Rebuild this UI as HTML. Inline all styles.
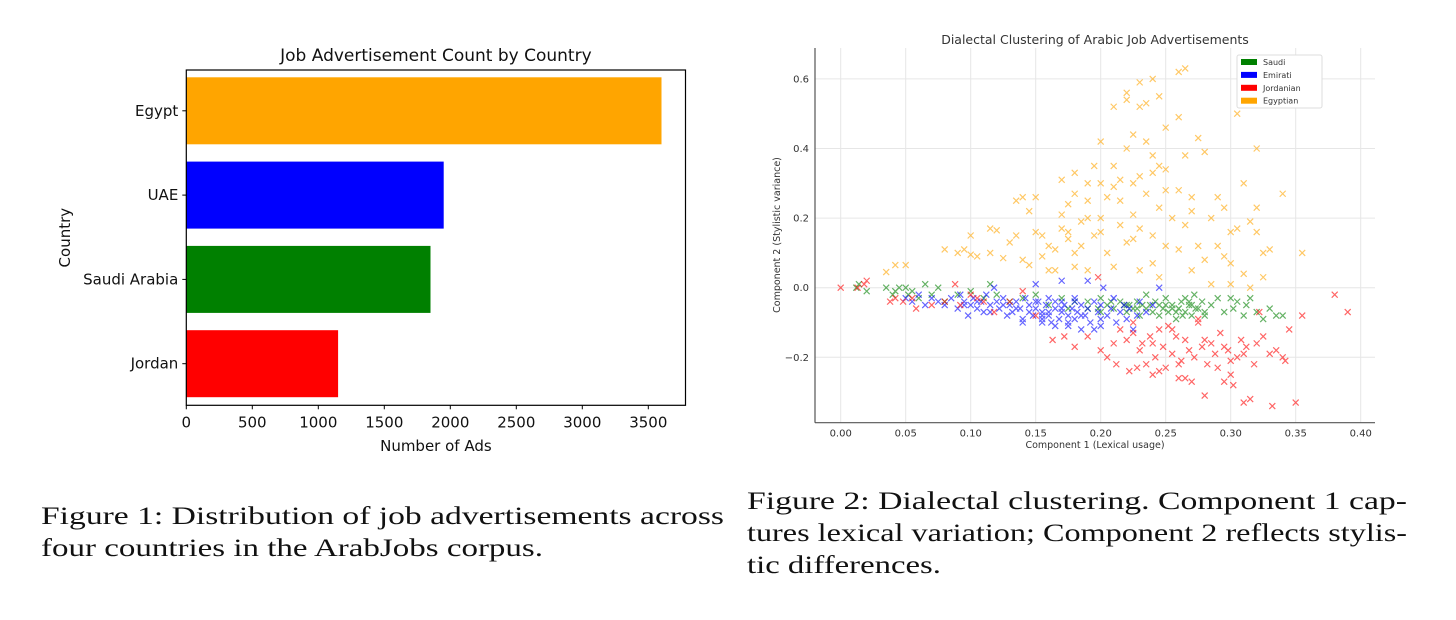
<!DOCTYPE html>
<html><head><meta charset="utf-8">
<style>
html,body{margin:0;padding:0;background:#fff;}
body{width:1456px;height:620px;position:relative;overflow:hidden;}
.ln{position:absolute;font-family:"Liberation Serif",serif;font-size:25px;line-height:32px;color:#111;white-space:nowrap;transform-origin:0 0;}
svg text{font-family:"DejaVu Sans","Liberation Sans",sans-serif;}
</style></head><body>
<svg id="c1" width="720" height="470" style="position:absolute;left:0;top:0"></svg>
<svg id="c2" width="736" height="470" style="position:absolute;top:0;left:720px"></svg>
<div>
<div class="ln" data-fit="683" style="left:41px;top:501px;">Figure 1: Distribution of job advertisements across</div>
<div class="ln" data-fit="502" style="left:41px;top:533px;">four countries in the ArabJobs corpus.</div>
</div>
<div>
<div class="ln" data-fit="660" style="left:747px;top:486px;">Figure 2: Dialectal clustering. Component 1 cap-</div>
<div class="ln" data-fit="660" style="left:747px;top:518px;">tures lexical variation; Component 2 reflects stylis-</div>
<div class="ln" data-fit="194" style="left:747px;top:550px;">tic differences.</div>
</div>
<script>
document.querySelectorAll('.ln').forEach(e=>{const w=e.getBoundingClientRect().width;const t=+e.getAttribute('data-fit');e.style.transform='scaleX('+(t/w)+')';});
const NS='http://www.w3.org/2000/svg';
function mk(p,t,a,txt){const e=document.createElementNS(NS,t);for(const k in a)e.setAttribute(k,a[k]);if(txt!==undefined)e.textContent=txt;p.appendChild(e);return e;}

// ---- Chart 1 data ----
const countries=['Egypt','UAE','Saudi Arabia','Jordan'];
const counts=[3600,1950,1850,1150];
const barColors=['#ffa500','#0000ff','#008000','#ff0000'];
const xTicks1=[0,500,1000,1500,2000,2500,3000,3500];

(function(){
const s=document.getElementById('c1');
const L=186.3,R=685.5,T=70,B=405.3;
const xs=v=>L+v*(66/500);
const band=84.3, y0=110.8;
const yc=i=>y0+i*band;
counts.forEach((v,i)=>{
 const r=mk(s,'rect',{x:L,y:yc(i)-33.5,width:xs(v)-L,height:67,fill:barColors[i]});
 
 
 mk(s,'line',{x1:L-4,x2:L,y1:yc(i),y2:yc(i),stroke:'#000','stroke-width':1});
 const t=mk(s,'text',{x:L-8,y:yc(i)+5,'text-anchor':'end','font-size':15,fill:'#111'},countries[i]);
 
 
});
xTicks1.forEach(v=>{
 mk(s,'line',{x1:xs(v),x2:xs(v),y1:B,y2:B+4,stroke:'#000','stroke-width':1});
 const t=mk(s,'text',{x:xs(v),y:B+22,'text-anchor':'middle','font-size':15,fill:'#111'},String(v));
 
 
});
const fr=mk(s,'rect',{x:L,y:T,width:R-L,height:B-T,fill:'none',stroke:'#000','stroke-width':1.2});

const tt=mk(s,'text',{x:(L+R)/2,y:61,'text-anchor':'middle','font-size':17,fill:'#111'},'Job Advertisement Count by Country');

const xl=mk(s,'text',{x:(L+R)/2,y:451,'text-anchor':'middle','font-size':15,fill:'#111'},'Number of Ads');

const yl=mk(s,'text',{x:70,y:(T+B)/2,'text-anchor':'middle','font-size':15,fill:'#111',transform:'rotate(-90 70 '+((T+B)/2)+')'},'Country');

})();

// ---- Chart 2 data ----
const seriesNames=['Saudi','Emirati','Jordanian','Egyptian'];
const seriesColors=['#008000','#0000ff','#ff0000','#ffa500'];
const xTicks2=[0,0.05,0.10,0.15,0.20,0.25,0.30,0.35,0.40];
const yTicks2=[-0.2,0.0,0.2,0.4,0.6];
const saudiX=[0.012,0.014,0.02,0.035,0.04,0.042,0.045,0.05,0.052,0.055,0.06,0.065,0.07,0.075,0.08,0.09,0.1,0.11,0.115,0.12,0.13,0.14,0.15,0.16,0.17,0.18,0.19,0.2,0.205,0.21,0.215,0.22,0.222,0.225,0.228,0.23,0.232,0.235,0.24,0.242,0.245,0.25,0.252,0.255,0.258,0.26,0.262,0.265,0.268,0.27,0.272,0.275,0.278,0.28,0.285,0.29,0.295,0.3,0.302,0.305,0.31,0.312,0.315,0.32,0.325,0.33,0.335,0.34,0.255,0.265,0.245,0.27,0.26,0.25,0.28,0.235,0.22,0.2,0.19,0.175,0.238,0.248,0.258,0.268,0.228,0.218,0.208,0.198,0.263,0.273];
const saudiY=[0.0,0.01,-0.01,0.0,-0.02,-0.01,0.0,0.0,-0.02,-0.01,-0.03,0.01,-0.02,0.0,-0.04,-0.02,-0.01,-0.03,0.01,-0.02,-0.04,-0.03,-0.02,-0.05,-0.03,-0.04,-0.06,-0.03,-0.05,-0.06,-0.04,-0.07,-0.05,-0.06,-0.04,-0.08,-0.05,-0.06,-0.07,-0.04,-0.05,-0.03,-0.07,-0.05,-0.09,-0.06,-0.04,-0.07,-0.05,-0.08,-0.02,-0.06,-0.04,-0.07,-0.05,-0.03,-0.07,-0.03,-0.06,-0.04,-0.08,-0.05,-0.03,-0.07,-0.09,-0.06,-0.08,-0.08,-0.06,-0.03,-0.08,-0.05,-0.06,-0.05,-0.08,-0.02,-0.05,-0.07,-0.04,-0.06,-0.05,-0.06,-0.07,-0.04,-0.06,-0.05,-0.04,-0.06,-0.08,-0.06];
const emiratiX=[0.05,0.055,0.06,0.065,0.07,0.075,0.08,0.085,0.09,0.092,0.095,0.098,0.1,0.102,0.105,0.108,0.11,0.112,0.115,0.118,0.12,0.122,0.125,0.128,0.13,0.132,0.135,0.138,0.14,0.142,0.145,0.148,0.15,0.15,0.152,0.155,0.155,0.158,0.16,0.16,0.162,0.165,0.165,0.168,0.17,0.17,0.172,0.175,0.175,0.178,0.18,0.18,0.182,0.185,0.185,0.188,0.19,0.19,0.192,0.195,0.198,0.2,0.2,0.202,0.205,0.208,0.21,0.212,0.215,0.218,0.22,0.222,0.225,0.228,0.23,0.235,0.24,0.245,0.145,0.155,0.165,0.175,0.135,0.125,0.185,0.195,0.16,0.15,0.17,0.14,0.18,0.115,0.105,0.095,0.2,0.21,0.17,0.155];
const emiratiY=[-0.03,-0.04,-0.02,-0.05,-0.03,-0.04,-0.05,-0.03,-0.06,-0.02,-0.04,-0.08,-0.05,-0.03,-0.06,-0.04,-0.07,-0.02,-0.05,0.0,-0.04,-0.06,-0.03,-0.08,-0.05,-0.07,-0.04,-0.06,-0.09,-0.03,-0.05,-0.08,-0.06,0.01,-0.04,-0.1,-0.07,-0.05,-0.08,-0.03,-0.1,-0.06,-0.04,-0.09,-0.07,0.02,-0.05,-0.08,-0.11,-0.06,-0.09,-0.04,-0.07,-0.12,-0.05,-0.08,-0.06,0.02,-0.1,-0.04,-0.07,-0.09,-0.05,0.0,-0.08,-0.06,-0.03,-0.1,-0.07,-0.05,-0.09,-0.06,-0.12,-0.08,-0.04,-0.07,-0.05,0.0,-0.07,-0.09,-0.11,-0.1,-0.06,-0.05,-0.08,-0.12,-0.07,-0.04,-0.06,-0.1,-0.03,-0.07,-0.04,-0.05,-0.11,-0.03,-0.04,-0.08];
const jordanX=[0.0,0.013,0.018,0.02,0.038,0.042,0.048,0.055,0.058,0.07,0.08,0.088,0.092,0.1,0.105,0.11,0.118,0.13,0.14,0.15,0.163,0.172,0.18,0.19,0.198,0.2,0.205,0.21,0.212,0.215,0.22,0.222,0.225,0.228,0.23,0.232,0.235,0.238,0.24,0.242,0.245,0.248,0.25,0.252,0.255,0.258,0.26,0.262,0.265,0.268,0.27,0.272,0.275,0.278,0.28,0.282,0.285,0.288,0.29,0.292,0.295,0.298,0.3,0.302,0.305,0.308,0.31,0.312,0.315,0.318,0.32,0.322,0.325,0.33,0.332,0.335,0.34,0.342,0.345,0.35,0.355,0.38,0.39,0.275,0.265,0.255,0.245,0.225,0.295,0.31,0.3,0.28,0.24,0.26];
const jordanY=[0.0,0.0,0.01,0.02,-0.04,-0.03,-0.04,-0.03,-0.06,-0.05,-0.04,0.01,-0.05,-0.02,-0.03,-0.04,-0.07,-0.04,-0.01,-0.08,-0.15,-0.14,-0.17,-0.14,0.03,-0.18,-0.2,-0.16,-0.22,-0.12,-0.15,-0.24,-0.13,-0.23,-0.18,-0.16,-0.22,-0.14,-0.25,-0.2,-0.12,-0.17,-0.23,-0.11,-0.19,-0.14,-0.26,-0.21,-0.15,-0.18,-0.27,-0.2,-0.1,-0.17,-0.31,-0.22,-0.16,-0.19,-0.23,-0.13,-0.27,-0.18,-0.21,-0.28,-0.2,-0.15,-0.33,-0.17,-0.32,-0.22,-0.16,-0.07,-0.14,-0.19,-0.34,-0.18,-0.2,-0.21,-0.12,-0.33,-0.08,-0.02,-0.07,-0.09,-0.26,-0.12,-0.24,-0.1,-0.17,-0.19,-0.25,-0.15,-0.16,-0.22];
const egyptX=[0.035,0.042,0.05,0.08,0.09,0.095,0.1,0.1,0.105,0.115,0.115,0.12,0.125,0.13,0.135,0.135,0.14,0.14,0.145,0.145,0.15,0.15,0.155,0.155,0.16,0.165,0.165,0.17,0.17,0.17,0.175,0.175,0.175,0.18,0.18,0.18,0.185,0.185,0.19,0.19,0.19,0.195,0.195,0.2,0.2,0.2,0.205,0.205,0.21,0.21,0.21,0.215,0.215,0.215,0.22,0.22,0.22,0.22,0.225,0.225,0.225,0.23,0.23,0.23,0.23,0.23,0.235,0.235,0.235,0.24,0.24,0.24,0.24,0.245,0.245,0.245,0.245,0.25,0.25,0.25,0.255,0.26,0.26,0.26,0.26,0.265,0.265,0.265,0.27,0.27,0.275,0.275,0.28,0.28,0.285,0.285,0.29,0.29,0.295,0.295,0.3,0.3,0.3,0.305,0.305,0.31,0.31,0.315,0.315,0.32,0.32,0.32,0.325,0.325,0.33,0.34,0.355,0.25,0.21,0.19,0.16,0.27,0.2,0.225,0.24,0.18];
const egyptY=[0.045,0.065,0.065,0.11,0.1,0.11,0.15,0.095,0.09,0.1,0.17,0.165,0.085,0.13,0.15,0.25,0.26,0.08,0.065,0.22,0.16,0.26,0.09,0.15,0.05,0.11,0.05,0.31,0.17,0.21,0.24,0.16,0.14,0.27,0.33,0.06,0.12,0.19,0.3,0.25,0.05,0.35,0.15,0.42,0.2,0.16,0.26,0.1,0.35,0.52,0.06,0.31,0.18,0.25,0.56,0.54,0.4,0.13,0.44,0.3,0.21,0.59,0.52,0.32,0.17,0.05,0.53,0.42,0.27,0.6,0.38,0.15,0.07,0.55,0.35,0.23,0.03,0.46,0.28,0.12,0.2,0.62,0.49,0.11,0.28,0.63,0.38,0.18,0.05,0.26,0.43,0.12,0.39,0.08,0.2,0.01,0.26,0.12,0.23,0.09,0.16,0.07,0.01,0.5,0.17,0.04,0.3,0.19,0.0,0.4,0.23,0.16,0.1,0.03,0.11,0.27,0.1,0.34,0.29,0.2,0.12,0.22,0.3,0.14,0.33,0.1];
const seriesX=[saudiX,emiratiX,jordanX,egyptX];
const seriesY=[saudiY,emiratiY,jordanY,egyptY];

(function(){
const s=document.getElementById('c2');
const ox=720;
const L=815-ox,R=1375-ox,T=48,B=422.7;
const xs=v=>840.7-ox+v*(65/0.05);
const ys=v=>287.7-v*(69.6/0.2);
xTicks2.forEach(v=>{
 mk(s,'line',{x1:xs(v),x2:xs(v),y1:T,y2:B,stroke:'#e6e6e6','stroke-width':1});
 const t=mk(s,'text',{x:xs(v),y:B+14,'text-anchor':'middle','font-size':10,fill:'#333'},v.toFixed(2));
 
 
});
yTicks2.forEach(v=>{
 mk(s,'line',{x1:L,x2:R,y1:ys(v),y2:ys(v),stroke:'#e6e6e6','stroke-width':1});
 const t=mk(s,'text',{x:L-6,y:ys(v)+3.5,'text-anchor':'end','font-size':10,fill:'#333'},(v<0?'\u2212':'')+Math.abs(v).toFixed(1));
 
 
});
seriesX.forEach((xa,si)=>{
 const g=mk(s,'g',{stroke:seriesColors[si],'stroke-width':1.2,opacity:0.6});
 
 
 xa.forEach((x,i)=>{
  const cx=xs(x),cy=ys(seriesY[si][i]),d=3;
  const p=mk(g,'path',{d:`M${cx-d},${cy-d}L${cx+d},${cy+d}M${cx-d},${cy+d}L${cx+d},${cy-d}`});
  
  
 });
});
mk(s,'line',{x1:L,x2:L,y1:T,y2:B,stroke:'#555','stroke-width':1.2});
mk(s,'line',{x1:L,x2:R,y1:B,y2:B,stroke:'#555','stroke-width':1.2});
const tt=mk(s,'text',{x:(L+R)/2,y:44,'text-anchor':'middle','font-size':12.5,fill:'#333'},'Dialectal Clustering of Arabic Job Advertisements');

const xl=mk(s,'text',{x:(L+R)/2,y:448,'text-anchor':'middle','font-size':9.5,fill:'#333'},'Component 1 (Lexical usage)');

const ycy=235;
const yl=mk(s,'text',{x:60,y:ycy,'text-anchor':'middle','font-size':9.5,fill:'#333',transform:'rotate(-90 60 '+ycy+')'},'Component 2 (Stylistic variance)');

const lg=mk(s,'g',{});

mk(lg,'rect',{x:1237-ox,y:55,width:85,height:53,fill:'#fff',stroke:'#ddd','stroke-width':1,rx:2});
seriesNames.forEach((n,i)=>{
 const y=62+i*12.9;
 const sw=mk(lg,'rect',{x:1241-ox,y:y-3,width:16,height:6,fill:seriesColors[i]});
 
 const t=mk(lg,'text',{x:1263-ox,y:y+3,'font-size':8,fill:'#333'},n);
 
});
})();
</script>
</body></html>
